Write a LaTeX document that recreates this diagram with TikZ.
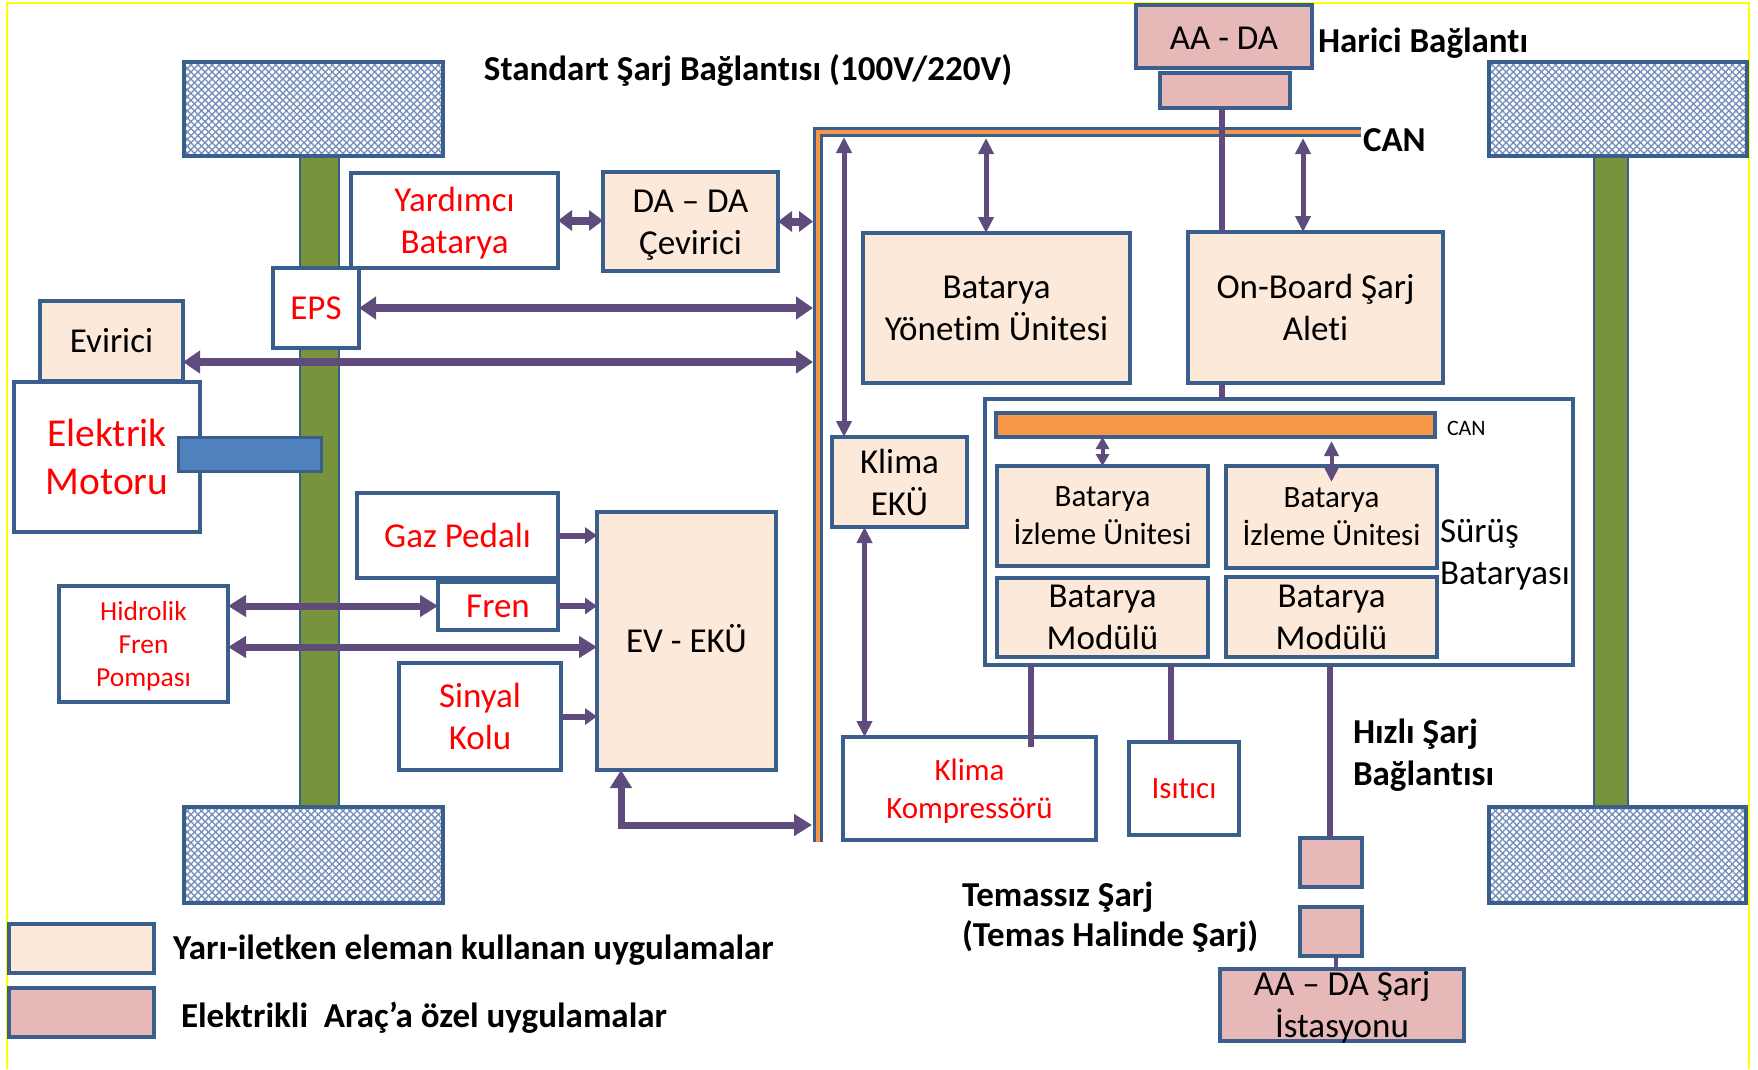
\documentclass[tikz,border=0pt]{standalone}
\usepackage{fontspec}
\setmainfont{Carlito}[Ligatures={NoCommon}]
\usetikzlibrary{arrows.meta,patterns.meta}
\definecolor{bord}{HTML}{3B5F8C}
\definecolor{peach}{HTML}{FDE9D9}
\definecolor{pinkf}{HTML}{E6B9B8}
\definecolor{purp}{HTML}{5F4B7C}
\definecolor{olive}{HTML}{77933C}
\definecolor{canor}{HTML}{F79646}
\definecolor{shaftc}{HTML}{4F81BD}
\definecolor{wheelc}{HTML}{7890BA}
\definecolor{redt}{HTML}{FF0000}
\definecolor{frame}{HTML}{FFFF00}
\begin{document}
\begin{tikzpicture}[x=1pt,y=-1pt,
  bx/.style={draw=bord, line width=3.5pt, inner sep=0pt, outer sep=0pt, align=center},
  wbox/.style={bx, fill=white, text=redt},
  pbox/.style={bx, fill=peach, text=black},
  kbox/.style={bx, fill=pinkf, text=black},
  fa/.style={font=\fontsize{35}{42}\selectfont},
  fb/.style={font=\fontsize{31}{38}\selectfont},
  fbold/.style={font=\bfseries\fontsize{35}{42}\selectfont},
  lbl/.style={inner sep=0pt, outer sep=0pt, align=left},
  intxt/.style={inner sep=0pt, outer sep=0pt, align=center},
  big/.style={draw=purp, line width=8pt, {Triangle[width=22pt,length=17pt]}-{Triangle[width=22pt,length=17pt]}},
  mid/.style={draw=purp, line width=7pt, {Triangle[width=21pt,length=18pt]}-{Triangle[width=21pt,length=18pt]}},
  one/.style={draw=purp, line width=6pt, -{Triangle[width=16pt,length=12pt]}},
  thin/.style={draw=purp, line width=5pt, {Triangle[width=15pt,length=16pt]}-{Triangle[width=15pt,length=16pt]}},
  tiny/.style={draw=purp, line width=4pt, {Triangle[width=13pt,length=12pt]}-{Triangle[width=13pt,length=12pt]}},
  wire/.style={draw=purp, line width=6pt},
  wheelpat/.style={pattern={Lines[angle=45,distance=5pt,line width=1.4pt]}, pattern color=wheelc},
  wheelpatb/.style={pattern={Lines[angle=-45,distance=5pt,line width=1.4pt]}, pattern color=wheelc},
]
\useasboundingbox (0,0) rectangle (1758,1069);
% frame
\draw[frame, line width=2.5pt] (7,1069) -- (7,3) -- (1749,3) -- (1749,1069);

% axles
\draw[bord, line width=2pt, fill=olive] (300,150) rectangle (339,812);
\draw[bord, line width=2pt, fill=olive] (1594,150) rectangle (1628,812);

% wheels
\foreach \a/\b/\c/\d in {184/62/443/156, 1489/62/1747/156, 184/807/443/903, 1489/807/1746/903}{
  \fill[white] (\a,\b) rectangle (\c,\d);
  \path[wheelpat] (\a,\b) rectangle (\c,\d);
  \path[wheelpatb] (\a,\b) rectangle (\c,\d);
  \draw[bord, line width=3.5pt] (\a,\b) rectangle (\c,\d);
}

% CAN bus (outer)
\coordinate (busTop) at (818,128);
\coordinate (busBot) at (818,842);
\coordinate (busEnd) at (1361,132);
\coordinate (busL) at (813,0);
\draw[bord, line width=10pt] (busBot) -- (818,132) -- (busEnd);
\draw[canor, line width=3.5pt] (busBot) -- (818,132) -- (busEnd);

% boxes left
\node[wbox, minimum width=207pt, minimum height=95pt] (yard) at (454.5,220.5) {};
\node[intxt, fa, text=redt] (yardT) at ([yshift=-3pt]yard.center) {Yardımcı\\Batarya};
\node[pbox, minimum width=175pt, minimum height=99pt] (dada) at (690.5,221.5) {};
\node[intxt, fa] (dadaT) at ([yshift=-3.5pt]dada.center) {DA -- DA\\Çevirici};
\node[wbox, fa, minimum width=86pt, minimum height=80pt] (eps) at (316,308) {EPS};
\node[pbox, fa, minimum width=143pt, minimum height=80pt] (evir) at (111.5,341) {Evirici};
\node[wbox, font=\fontsize{39.5}{48}\selectfont, minimum width=186pt, minimum height=150pt] (motor) at (107,457) {Elektrik\\Motoru};
\draw[bord, line width=3pt, fill=shaftc] (178,437) rectangle (321,471);
\node[wbox, fa, minimum width=201pt, minimum height=85pt] (gaz) at (457.5,535.5) {Gaz Pedalı};
\node[wbox, fa, minimum width=120pt, minimum height=48pt] (fren) at (498,606) {Fren};
\node[wbox, font=\fontsize{27.5}{33}\selectfont, minimum width=169pt, minimum height=116pt] (hid) at (143.5,644) {};
\node[intxt, font=\fontsize{27.5}{33}\selectfont, text=redt] (hidT) at ([yshift=-2pt]hid.center) {Hidrolik\\Fren\\Pompası};
\node[wbox, fa, minimum width=162pt, minimum height=107pt] (sin) at (480,716.5) {Sinyal\\Kolu};
\node[pbox, fa, minimum width=179pt, minimum height=258pt] (evecu) at (686.5,641) {};
\node[intxt, fa] (evecuT) at ([yshift=2pt]evecu.center) {EV - EKÜ};

% boxes right
\node[pbox, fa, minimum width=135pt, minimum height=90pt] (klimaecu) at (899.5,482) {Klima\\EKÜ};
\node[pbox, fa, minimum width=267pt, minimum height=150pt] (bms) at (996.5,308) {Batarya\\Yönetim Ünitesi};
\node[pbox, fa, minimum width=255pt, minimum height=151pt] (obc) at (1315.5,307.5) {On-Board Şarj\\Aleti};
\node[kbox, minimum width=176pt, minimum height=63pt] (acdc) at (1224,36.5) {};
\node[intxt, fa] (acdcT) at ([yshift=-1.5pt]acdc.center) {AA - DA};
\node[kbox, minimum width=130pt, minimum height=35pt] (small) at (1225,90.5) {};
\node[bx, fill=white, minimum width=588pt, minimum height=266pt] (surus) at (1279,532) {};
\node[bx, fill=canor, minimum width=439pt, minimum height=24pt] (canbar) at (1215.5,425) {};
\node[pbox, fb, minimum width=211pt, minimum height=100pt] (izl1) at (1102.5,516) {Batarya\\İzleme Ünitesi};
\node[pbox, fb, minimum width=211pt, minimum height=102pt] (izl2) at (1331.5,517) {Batarya\\İzleme Ünitesi};
\node[pbox, fa, minimum width=211pt, minimum height=79pt] (mod1) at (1102.5,617.5) {Batarya\\Modülü};
\node[pbox, fa, minimum width=211pt, minimum height=80pt] (mod2) at (1331.5,617) {Batarya\\Modülü};
\node[wbox, minimum width=253pt, minimum height=103pt] (komp) at (969.5,788.5) {};
\node[intxt, fb, text=redt] (kompT) at ([yshift=-3pt]komp.center) {Klima\\Kompressörü};
\node[wbox, fb, minimum width=110pt, minimum height=93pt] (isi) at (1184,788.5) {Isıtıcı};
\node[kbox, minimum width=62pt, minimum height=49pt] (pink1) at (1331,862.5) {};
\node[kbox, minimum width=62pt, minimum height=49pt] (pink2) at (1331,931.5) {};
\node[kbox, minimum width=244pt, minimum height=72pt] (station) at (1342,1005) {};
\node[intxt, fa] (stationT) at ([yshift=-2pt]station.center) {AA -- DA Şarj\\İstasyonu};
\node[pbox, minimum width=145pt, minimum height=49pt] (leg1) at (81.5,948.5) {};
\node[kbox, minimum width=145pt, minimum height=49pt] (leg2) at (81.5,1012.5) {};

% free labels
\node[lbl, fbold] (std) at (748,70.5) {Standart Şarj Bağlantısı (100V/220V)};
\node[lbl, fbold, anchor=west] (harici) at (1318,43) {Harici Bağlantı};
\node[lbl, fbold, anchor=west] (canlbl) at (1363,140) {CAN};
\node[lbl, font=\fontsize{22}{26}\selectfont, anchor=west] (cansmall) at (1447,428) {CAN};
\node[lbl, fa, anchor=west] (surlbl) at (1440,555) {Sürüş\\Bataryası};
\node[lbl, fbold, anchor=west] (hizli) at (1353,755) {Hızlı Şarj\\Bağlantısı};
\node[lbl, font=\bfseries\fontsize{35}{40}\selectfont, anchor=west] (temas) at (962,917) {Temassız Şarj\\(Temas Halinde Şarj)};
\node[lbl, fbold, anchor=west] (legt1) at (173,950) {Yarı-iletken eleman kullanan uygulamalar};
\node[lbl, fbold, anchor=west] (legt2) at (181,1018) {Elektrikli\ \ Araç’a özel uygulamalar};

% connectors
\draw[big, {Triangle[width=20pt,length=14pt]}-{Triangle[width=20pt,length=14pt]}] (yard.east) -- (yard.east -| dada.west);
\draw[big, {Triangle[width=20pt,length=14pt]}-{Triangle[width=20pt,length=14pt]}] (dada.east) -- (dada.east -| busL);
\draw[big] (eps.east) -- (eps.east -| busL);
\draw[big] ([yshift=-21pt]evir.east) -- ([yshift=-21pt]evir.east -| busL);
\draw[one] (gaz.east) -- (gaz.east -| evecu.west);
\draw[one] (fren.east) -- (fren.east -| evecu.west);
\draw[one] (sin.east) -- (sin.east -| evecu.west);
\draw[mid] (hid.east |- fren.west) -- (fren.west);
\draw[mid] ([yshift=-3pt]hid.east) -- ([yshift=-3pt]hid.east -| evecu.west);
\coordinate (evbus) at (812,825);
\draw[mid] ([xshift=24pt]evecu.south west) |- (evbus);

\coordinate (t1) at (844,137);
\coordinate (t2) at (986,138);
\coordinate (t3) at (1303,138);
\draw[thin] (t1) -- (t1 |- klimaecu.north);
\draw[thin] (t2) -- (t2 |- bms.north);
\draw[thin] (t3) -- (t3 |- obc.north);
\draw[thin] ([xshift=-35pt]klimaecu.south) -- ([xshift=-35pt]klimaecu.south |- komp.north);

\draw[wire] ([xshift=-3pt]small.south) -- ([xshift=-3pt]small.south |- obc.north);
\draw[wire] ([xshift=-3pt]small.south |- obc.south) -- ([xshift=-3pt]small.south |- surus.north);
\coordinate (l1) at (1031,665);
\coordinate (l2) at (1171,665);
\draw[wire] (l1) -- ([yshift=-10pt]l1 |- komp.north);
\draw[wire] (l2) -- (l2 |- isi.north);
\draw[wire] ([xshift=-1pt]pink1.north |- surus.south) -- ([xshift=-1pt]pink1.north);
\draw[wire, line width=4pt] ([xshift=5pt]pink2.south) -- ([xshift=5pt]pink2.south |- station.north);

\draw[tiny] (izl1.north |- canbar.south) -- (izl1.north);
\draw[tiny, {Triangle[width=14pt,length=15pt]}-{Triangle[width=14pt,length=15pt]}] ([yshift=-4pt]izl2.north |- canbar.south) -- ([yshift=-16pt]izl2.north);
\end{tikzpicture}
\end{document}
